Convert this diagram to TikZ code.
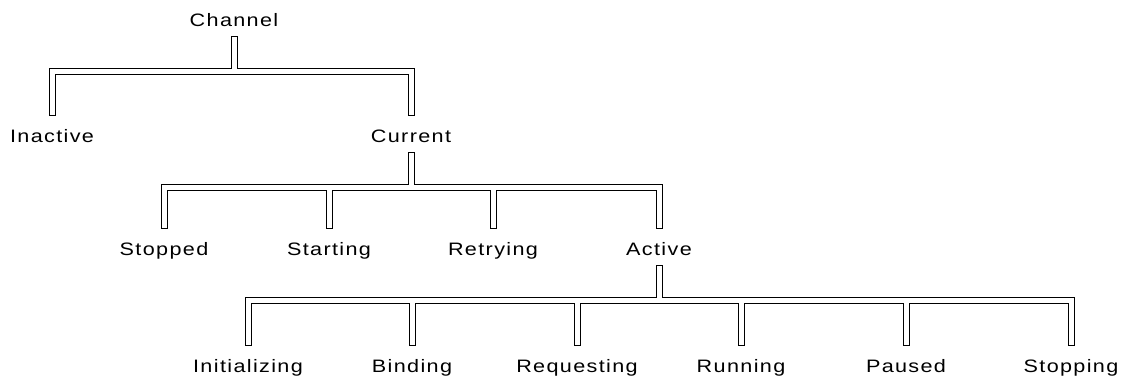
\documentclass[tikz,border=0pt]{standalone}
\usepackage{fontspec}
\setmainfont{Liberation Sans}[FakeStretch=1.2, LetterSpace=7.5]
\begin{document}
\begin{tikzpicture}[x=1pt,y=-1pt,
  lbl/.style={anchor=base, inner sep=0pt, font=\fontsize{18}{22}\selectfont},
  outerpass/.style={draw=black, line width=7pt, line join=miter},
  innerpass/.style={draw=white, line width=5pt, line join=miter, shorten <=1pt, shorten >=1pt}]
\useasboundingbox (0,0) rectangle (1122,381);
\node[lbl] (channel) at (234,26) {Channel};
\node[lbl] (inactive) at (52,142) {Inactive};
\node[lbl] (current) at (411,142) {Current};
\node[lbl] (stopped) at (164,255) {Stopped};
\node[lbl] (starting) at (329,255) {Starting};
\node[lbl] (retrying) at (493,255) {Retrying};
\node[lbl] (active) at (659,255) {Active};
\node[lbl] (initializing) at (248,372) {Initializing};
\node[lbl] (binding) at (412,372) {Binding};
\node[lbl] (requesting) at (577,372) {Requesting};
\node[lbl] (running) at (741,372) {Running};
\node[lbl] (paused) at (906,372) {Paused};
\node[lbl] (stopping) at (1071,372) {Stopping};
\newcommand\treeedges[1]{%
  \foreach \p/\c in {channel/inactive, channel/current,
      current/stopped, current/starting, current/retrying, current/active,
      active/initializing, active/binding, active/requesting, active/running, active/paused, active/stopping}
    \path[#1] ([yshift=-10pt]\p.base) -- ++(0,35) -| ([yshift=26pt]\c.base);%
}
\treeedges{outerpass}
\treeedges{innerpass}
\end{tikzpicture}
\end{document}
